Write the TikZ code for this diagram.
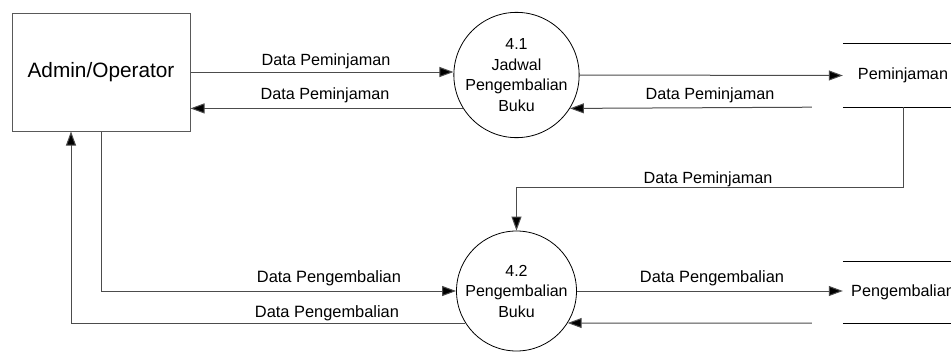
\documentclass[tikz,border=0pt]{standalone}
\usepackage{fontspec}
\setmainfont{Liberation Sans}
\usetikzlibrary{arrows.meta}
\tikzset{
  flow/.style={draw=black!70, line width=1pt, -{Triangle[length=14pt,width=10pt,fill=black]}},
  entity/.style={draw=black!65, line width=1pt, minimum width=178pt, minimum height=118pt, inner sep=0pt, font=\fontsize{20.8}{24}\selectfont},
  proc/.style={draw=black, line width=0.8pt, circle, minimum size=120pt, inner sep=0pt, align=center, font=\fontsize{16}{20.5}\selectfont},
  storebox/.style={minimum width=120pt, inner sep=0pt},
  storeline/.style={draw=black, line width=1pt},
  lblA/.style={anchor=base, font=\fontsize{16.2}{19}\selectfont, inner sep=0pt},
  lblB/.style={anchor=base, font=\fontsize{16.4}{19}\selectfont, inner sep=0pt}
}
\begin{document}
\begin{tikzpicture}[x=1pt,y=-1pt]
\useasboundingbox[fill=white] (0,0) rectangle (951,351);

\node[entity] (box) at (101,72) {Admin/Operator};
\node[proc] (p41) at (516.5,75) {4.1\\Jadwal\\Pengembalian\\Buku};
\node[proc] (p42) at (516.5,291) {4.2\\Pengembalian\\Buku};

\node[storebox, minimum height=63pt, font=\fontsize{16.2}{19}\selectfont] (s1) at (903,75.5) {Peminjaman};
\draw[storeline] (s1.north west) -- (s1.north east);
\draw[storeline] (s1.south west) -- (s1.south east);

\node[storebox, minimum height=61pt, font=\fontsize{16.2}{19}\selectfont] (s2) at (903,292.5) {Pengembalian};
\draw[storeline] (s2.north west) -- (s2.north east);
\draw[storeline] (s2.south west) -- (s2.south east);

% Admin <-> 4.1
\draw[flow] (box.east) -- (box.east -| p41.west);
\draw[flow] (p41.212) -- (box.east |- p41.212);
% Admin <-> 4.2
\draw[flow] (box.south) |- (p42.west);
\draw[flow] (p42.212) -| ([xshift=-30pt]box.south);
% 4.1 <-> Peminjaman
\draw[flow] (p41.east) -- (s1.west);
\draw[flow] ([xshift=-31pt]s1.south west) -- (p41.328);
% Peminjaman -> 4.2
\draw[flow] (s1.south) -- ++(0,80) -| (p42.north);
% 4.2 <-> Pengembalian
\draw[flow] (p42.east) -- (p42.east -| s2.west);
\draw[flow] ([xshift=-31pt]s2.south west) -- (p42.328);

% labels
\node[lblA] (l1) at (326,65) {Data Peminjaman};
\node[lblA] (l2) at (325,99) {Data Peminjaman};
\node[lblA] (l3) at (710,99) {Data Peminjaman};
\node[lblA] (l4) at (708,183) {Data Peminjaman};
\node[lblB] (l5) at (329,282) {Data Pengembalian};
\node[lblB] (l6) at (327,317) {Data Pengembalian};
\node[lblB] (l7) at (712,282) {Data Pengembalian};
\end{tikzpicture}
\end{document}
